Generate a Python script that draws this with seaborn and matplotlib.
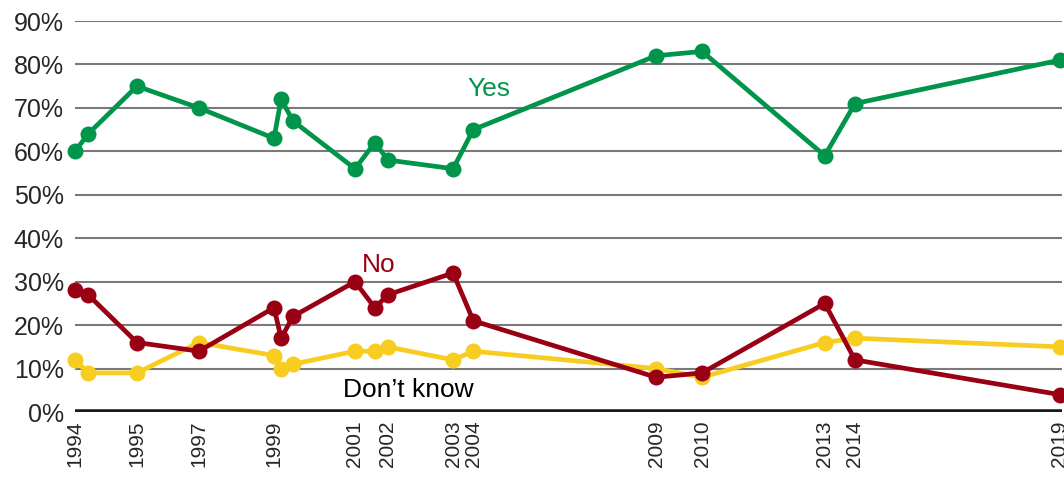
import pandas as pd
import seaborn as sns
import matplotlib.pyplot as plt
from matplotlib.ticker import PercentFormatter

# survey dates (decimal years) and results in percent
survey_dates = [1994.00, 1994.33, 1995.56, 1997.12, 1999.01, 1999.19, 1999.49,
                2001.05, 2001.55, 2001.88, 2003.52, 2004.03, 2008.63, 2009.79,
                2012.88, 2013.64, 2018.80]
yes = [60, 64, 75, 70, 63, 72, 67, 56, 62, 58, 56, 65, 82, 83, 59, 71, 81]
no = [28, 27, 16, 14, 24, 17, 22, 30, 24, 27, 32, 21, 8, 9, 25, 12, 4]
dont_know = [12, 9, 9, 16, 13, 10, 11, 14, 14, 15, 12, 14, 10, 8, 16, 17, 15]

tick_dates = [1994.00, 1995.56, 1997.12, 1999.01, 2001.05, 2001.88, 2003.52,
              2004.03, 2008.63, 2009.79, 2012.88, 2013.64, 2018.80]
tick_labels = ['1994', '1995', '1997', '1999', '2001', '2002', '2003',
               '2004', '2009', '2010', '2013', '2014', '2019']

df = pd.DataFrame({'date': survey_dates, 'Yes': yes, 'No': no,
                   "Don\u2019t know": dont_know})
long = df.melt(id_vars='date', var_name='answer', value_name='pct')

colors = {'Yes': '#00954b', 'No': '#990014', "Don\u2019t know": '#f8cd22'}

sns.set_style('white')
plt.rcParams['font.family'] = ['Liberation Sans', 'DejaVu Sans']

fig = plt.figure(figsize=(10.64, 4.82), dpi=100)
ax = fig.add_axes([0.0705, 0.1452, 0.9275, 0.8112])

for y in range(10, 100, 10):
    ax.axhline(y, color='#7a7a7a', lw=1.5, zorder=0)
ax.axhline(0, color='#1a1a1a', lw=4, zorder=0)

sns.lineplot(data=long, x='date', y='pct', hue='answer', palette=colors,
             hue_order=["Don\u2019t know", 'No', 'Yes'],
             marker='o', markersize=11.5, markeredgewidth=0, linewidth=3.4,
             legend=False, ax=ax, clip_on=False)

ax.set_xlim(1994.0, 2018.85)
ax.set_ylim(0, 90)
ax.set_yticks(range(0, 100, 10))
ax.yaxis.set_major_formatter(PercentFormatter(decimals=0))
ax.set_xticks(tick_dates)
ax.set_xticklabels(tick_labels, rotation=90, va='top', ha='center')
ax.tick_params(axis='y', labelsize=18, pad=8, length=0)
ax.tick_params(axis='x', labelsize=15, pad=6, length=0)
ax.set_xlabel('')
ax.set_ylabel('')
for s in ax.spines.values():
    s.set_visible(False)

ax.text(2003.89, 72.7, 'Yes', color='#00954b', fontsize=19, va='baseline')
ax.text(2001.23, 32.2, 'No', color='#990014', fontsize=19, va='baseline')
ax.text(2000.75, 3.45, "Don\u2019t know", color='black', fontsize=19,
        va='baseline')

fig.savefig('out.png', dpi=100)
